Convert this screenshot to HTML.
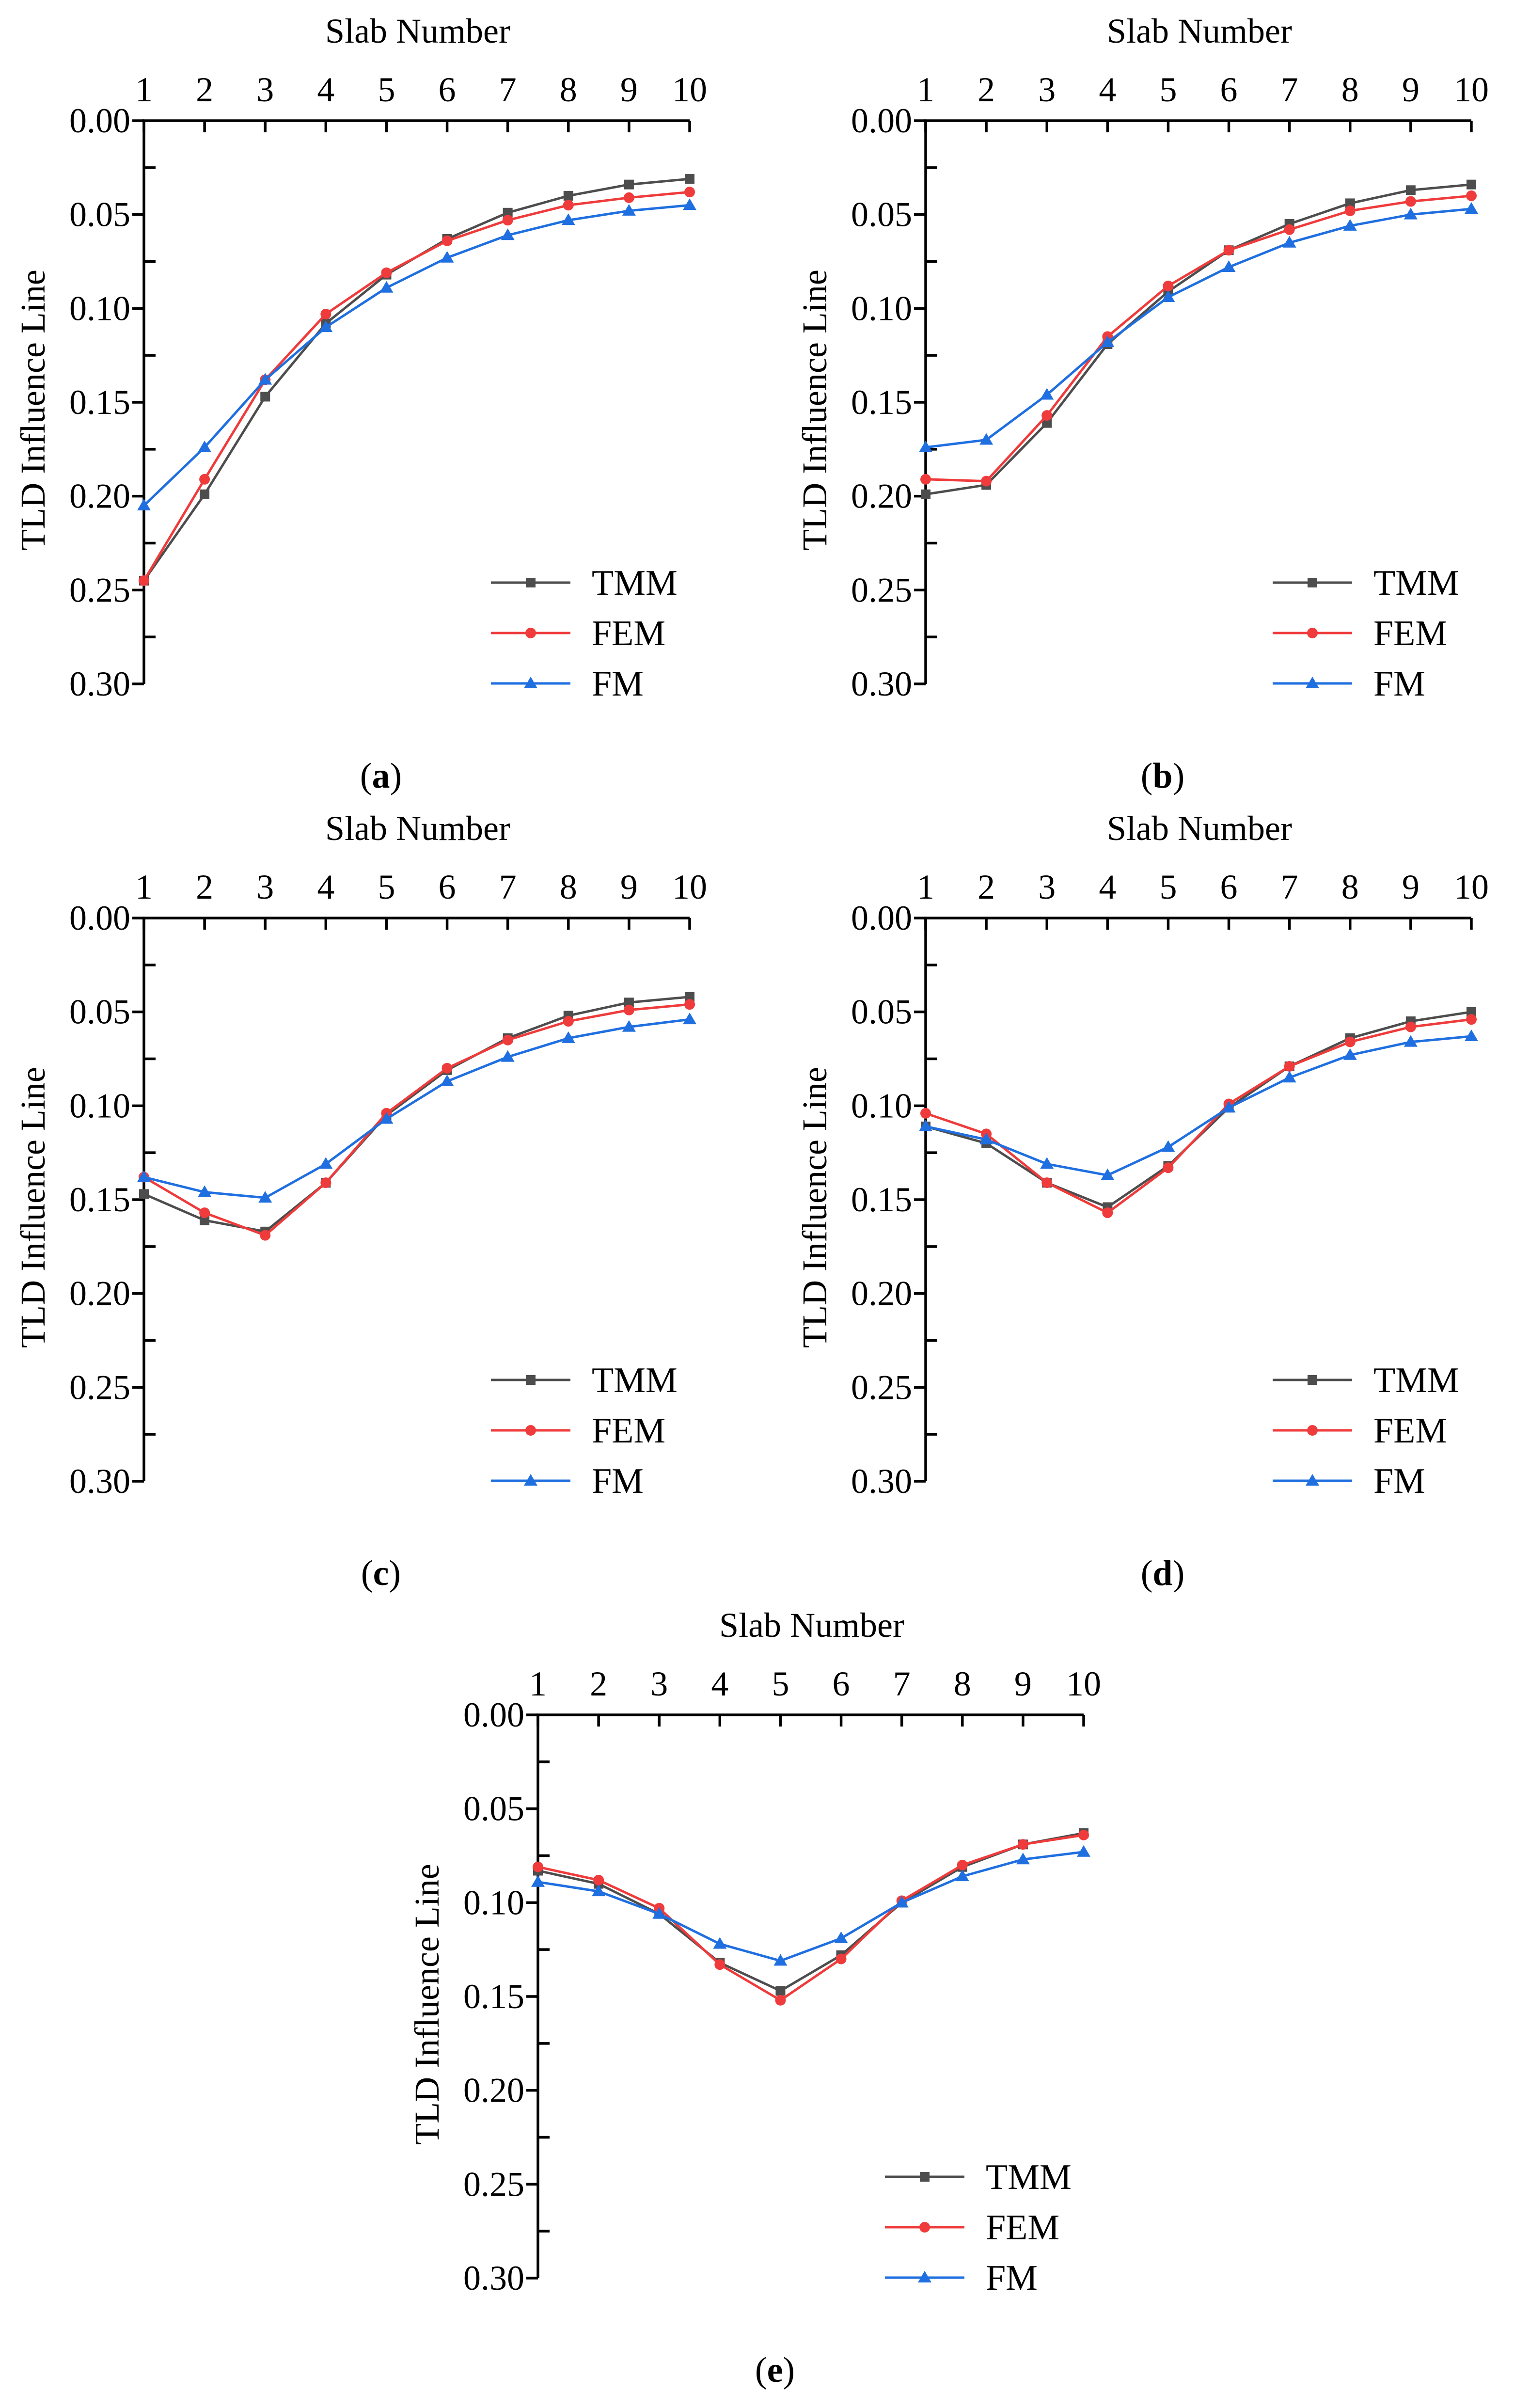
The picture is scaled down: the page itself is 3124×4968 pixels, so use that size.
<!DOCTYPE html>
<html><head><meta charset="utf-8"><style>
html,body{margin:0;padding:0;background:#fff;}
svg{display:block;}
text{font-family:"Liberation Serif",serif;fill:#000;}
</style></head><body>
<svg id="fig" width="3124" height="4968" viewBox="0 0 3124 4968" xmlns="http://www.w3.org/2000/svg"></svg>
<script>
const slabs = [1,2,3,4,5,6,7,8,9,10];
const yTicks = [0.00,0.05,0.10,0.15,0.20,0.25,0.30];
const seriesNames = ["TMM","FEM","FM"];
const panelLabels = ["a","b","c","d","e"];
const tmmA = [0.245,0.199,0.147,0.108,0.082,0.063,0.049,0.040,0.034,0.031];
const femA = [0.245,0.191,0.138,0.103,0.081,0.064,0.053,0.045,0.041,0.038];
const fmA  = [0.205,0.174,0.138,0.110,0.089,0.073,0.061,0.053,0.048,0.045];
const tmmB = [0.199,0.194,0.161,0.119,0.091,0.069,0.055,0.044,0.037,0.034];
const femB = [0.191,0.192,0.157,0.115,0.088,0.069,0.058,0.048,0.043,0.040];
const fmB  = [0.174,0.170,0.146,0.118,0.094,0.078,0.065,0.056,0.050,0.047];
const tmmC = [0.147,0.161,0.167,0.141,0.105,0.081,0.064,0.052,0.045,0.042];
const femC = [0.138,0.157,0.169,0.141,0.104,0.080,0.065,0.055,0.049,0.046];
const fmC  = [0.138,0.146,0.149,0.131,0.107,0.087,0.074,0.064,0.058,0.054];
const tmmD = [0.111,0.120,0.141,0.154,0.132,0.101,0.079,0.064,0.055,0.050];
const femD = [0.104,0.115,0.141,0.157,0.133,0.099,0.079,0.066,0.058,0.054];
const fmD  = [0.111,0.118,0.131,0.137,0.122,0.101,0.085,0.073,0.066,0.063];
const tmmE = [0.083,0.090,0.106,0.132,0.147,0.128,0.100,0.081,0.069,0.063];
const femE = [0.081,0.088,0.103,0.133,0.152,0.130,0.099,0.080,0.069,0.064];
const fmE  = [0.089,0.094,0.106,0.122,0.131,0.119,0.100,0.086,0.077,0.073];

const panels = [
  {ox:297, oy:249, d:[tmmA,femA,fmA]},
  {ox:1910, oy:249, d:[tmmB,femB,fmB]},
  {ox:297, oy:1894, d:[tmmC,femC,fmC]},
  {ox:1910, oy:1894, d:[tmmD,femD,fmD]},
  {ox:1110, oy:3538, d:[tmmE,femE,fmE]}
];
const colors = ["#4d4d4d","#ef3b3b","#1f6fe0"];
const W = 1126, H = 1162;
const NS = "http://www.w3.org/2000/svg";
const svg = document.getElementById('fig');
function el(tag, attrs, parent, txt){
  const e = document.createElementNS(NS, tag);
  for (const k in attrs) e.setAttribute(k, attrs[k]);
  if (txt !== undefined) e.textContent = txt;
  (parent||svg).appendChild(e);
  return e;
}
function marker(g, i, x, y, name){
  let m;
  if (i===0) m = el('rect',{x:x-10,y:y-10,width:20,height:20,fill:colors[0]},g);
  else if (i===1) m = el('circle',{cx:x,cy:y,r:11,fill:colors[1]},g);
  else m = el('polygon',{points:`${x},${y-14} ${x-14},${y+10} ${x+14},${y+10}`,fill:colors[2]},g);
  
  
}
panels.forEach((p, pi) => {
  const xs = v => p.ox + (v-1)/9*W;
  const ys = v => p.oy + v/0.3*H;
  const g = el('g',{});
  
  
  const ax = el('path',{d:`M${p.ox},${p.oy+H} L${p.ox},${p.oy} L${p.ox+W},${p.oy}`,stroke:'#000','stroke-width':5.5,fill:'none'},g);
  
  
  slabs.forEach(s => {
    const x = xs(s);
    el('line',{x1:x,y1:p.oy,x2:x,y2:p.oy+24,stroke:'#000','stroke-width':5.5},g);
    const t = el('text',{x:x,y:p.oy-40,'font-size':72,'text-anchor':'middle'},g,String(s));
    
    
  });
  yTicks.forEach(v => {
    const y = ys(v);
    el('line',{x1:p.ox-24,y1:y,x2:p.ox,y2:y,stroke:'#000','stroke-width':5.5},g);
    const t = el('text',{x:p.ox-28,y:y+24,'font-size':72,'text-anchor':'end'},g,v.toFixed(2));
    
    
  });
  for (let k=0;k<6;k++){
    const y = ys(0.025+0.05*k);
    el('line',{x1:p.ox,y1:y,x2:p.ox+24,y2:y,stroke:'#000','stroke-width':5.5},g);
  }
  const xt = el('text',{x:p.ox+565,y:p.oy-161,'font-size':72,'text-anchor':'middle'},g,'Slab Number');
  
  
  const yt = el('text',{x:0,y:0,'font-size':72,'text-anchor':'middle',transform:`translate(${p.ox-205},${p.oy+597}) rotate(-90)`},g,'TLD Influence Line');
  
  
  p.d.forEach((arr, i) => {
    const sg = el('g',{},g);
    
    
    const pts = arr.map((v,j) => xs(slabs[j]) + ',' + ys(v)).join(' ');
    el('polyline',{points:pts,fill:'none',stroke:colors[i],'stroke-width':5,'stroke-linejoin':'round'},sg);
    arr.forEach((v,j) => marker(sg, i, xs(slabs[j]), ys(v), 'point-' + seriesNames[i].toLowerCase()));
  });
  seriesNames.forEach((n, i) => {
    const lg = el('g',{},g);
    
    
    const y = p.oy + 953 + 104*i;
    el('line',{x1:p.ox+716,y1:y,x2:p.ox+880,y2:y,stroke:colors[i],'stroke-width':5},lg);
    marker(lg, i, p.ox+798, y, 'legend-marker');
    el('text',{x:p.ox+924,y:y+25,'font-size':74},lg,n);
  });
  const pl = el('text',{x:p.ox+489,y:p.oy+1376,'font-size':74,'text-anchor':'middle'},g);
  
  
  el('tspan',{},pl,'(');
  el('tspan',{'font-weight':'bold'},pl,panelLabels[pi]);
  el('tspan',{},pl,')');
});
</script>
</body></html>
